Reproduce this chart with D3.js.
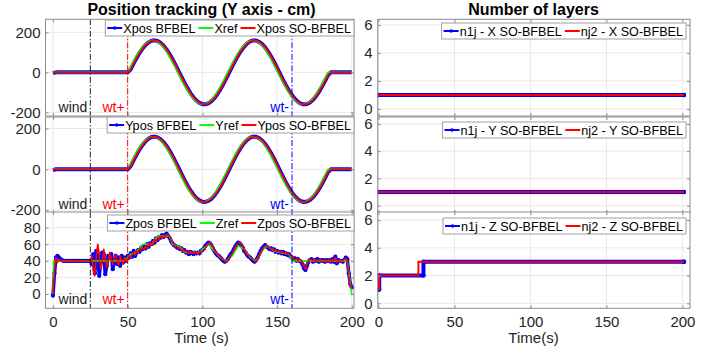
<!DOCTYPE html>
<html>
<head>
<meta charset="utf-8">
<script src="https://cdn.jsdelivr.net/npm/d3@7"></script>
<style>
  body { margin: 0; background: #fff; }
  text { font-family: "Liberation Sans", Arial, Helvetica, sans-serif; }
</style>
</head>
<body>
<svg id="chart" width="713" height="357"></svg>
<script>
// ---- data ----
const tSine = d3.range(0, 201, 2);          // sample times (s) of X / Y tracks
const xRef = [
  0,0,0,0,0,0,0,0,0,0, 0,0,0,0,0,0,0,0,0,0, 0,0,0,0,0,
  0,29.8,58.6,85.3,109.1,129.0,144.4,154.7,159.6,158.9,152.6,141.0,124.4,103.5,78.9,51.6,22.4,
  -7.5,-37.2,-65.5,-91.6,-114.5,-133.3,-147.5,-156.4,-160.0,-157.9,-150.2,-137.3,-119.5,-97.6,-72.3,-44.4,-15.0,
  15.0,44.4,72.3,97.6,119.5,137.3,150.2,157.9,160.0,156.4,147.5,133.3,114.5,91.6,65.5,37.2,7.5,
  -22.4,-51.6,-78.9,-103.5,-124.4,-141.0,-152.6,-158.9,-159.6,-154.7,-144.4,-129.0,-109.1,-85.3,-58.6,-29.8,0,
  0,0,0,0,0,0,0,0
];
const xPosBfbel = [
  -4,0,0,0,0,0,0,0,0,0, 0,0,0,0,0,0,0,0,0,0, 0,0,0,0,0,0,
  15.0,44.4,72.3,97.6,119.5,137.3,150.2,157.9,160.0,156.4,147.5,133.3,114.5,91.6,65.5,37.2,7.5,
  -22.4,-51.6,-78.9,-103.5,-124.4,-141.0,-152.6,-158.9,-159.6,-154.7,-144.4,-129.0,-109.1,-85.3,-58.6,-29.8,
  0,29.8,58.6,85.3,109.1,129.0,144.4,154.7,159.6,158.9,152.6,141.0,124.4,103.5,78.9,51.6,22.4,
  -7.5,-37.2,-65.5,-91.6,-114.5,-133.3,-147.5,-156.4,-160.0,-157.9,-150.2,-137.3,-119.5,-97.6,-72.3,-44.4,-15.0,
  0,0,0,0,0,0,0,0
];
const xPosSo = [
  0,0,0,0,0,0,0,0,0,0, 0,0,0,0,0,0,0,0,0,0, 0,0,0,0,0,0,
  15.0,44.4,72.3,97.6,119.5,137.3,150.2,157.9,160.0,156.4,147.5,133.3,114.5,91.6,65.5,37.2,7.5,
  -22.4,-51.6,-78.9,-103.5,-124.4,-141.0,-152.6,-158.9,-159.6,-154.7,-144.4,-129.0,-109.1,-85.3,-58.6,-29.8,
  0,29.8,58.6,85.3,109.1,129.0,144.4,154.7,159.6,158.9,152.6,141.0,124.4,103.5,78.9,51.6,22.4,
  -7.5,-37.2,-65.5,-91.6,-114.5,-133.3,-147.5,-156.4,-160.0,-157.9,-150.2,-137.3,-119.5,-97.6,-72.3,-44.4,-15.0,
  0,0,0,0,0,0,0,0
];
// the Y tracks look identical to the X tracks in the figure
const yRef = xRef.slice();
const yPosBfbel = xPosBfbel.slice();
const yPosSo = xPosSo.slice();

const tZ = d3.range(0, 201, 1);            // sample times (s) of Z track
const zPosBfbel = [
  -2,25,44,46,44,42,41,40,40,40,  40,40,40,40,40,40,40,40,40,40,
  40,40,40,40,40,40,36,48,25,52,  44,22,42,50,48,24,34,46,44,48,
  30,40,46,36,44,34,46,38,44,40,  46,44,49,45,52,46,50,53,51,56,
  54,57,55,60,57,61,60,64,62,67,  65,69,68,71,69,71,73,70,68,64,
  61,59,58,56,57,54,55,52,53,50,  51,48,51,50,48,50,49,50,49,52,
  53,55,58,60,62,61,59,55,52,49,  47,46,44,42,40,39,40,42,45,48,
  50,54,57,60,62,61,59,56,52,50,  47,45,44,42,40,39,41,44,48,52,
  55,57,59,57,56,54,55,53,54,51,  52,50,51,49,51,48,49,47,48,45,
  44,41,43,40,42,40,39,36,31,29,  34,39,41,42,39,41,40,42,39,41,
  40,41,39,41,40,41,39,42,39,45,  37,41,40,40,39,41,44,42,25,12,
  8
];
const zPosSo = [
  0,30,44,38,42,40,40,40,40,40,   40,40,40,40,40,40,40,40,40,40,
  40,40,40,40,40,40,46,28,22,45,  60,48,30,38,54,42,32,40,50,42,
  36,44,48,38,35,46,40,36,44,40,  42,46,44,48,50,47,52,50,55,53,
  56,54,58,55,60,58,62,59,66,63,  68,66,70,67,70,68,72,71,70,66,
  62,60,57,58,55,56,52,54,51,52,  50,49,52,49,50,49,51,48,50,51,
  52,53,56,59,61,62,60,57,53,50,  48,47,45,43,41,40,39,41,43,46,
  49,52,56,59,61,62,60,57,54,51,  48,46,45,43,41,40,39,42,46,50,
  53,56,58,58,57,55,54,55,52,53,  51,52,50,51,50,49,50,48,47,46,
  45,42,41,43,40,42,41,38,33,30,  36,40,42,41,40,42,39,41,40,42,
  39,40,41,39,40,42,38,41,40,44,  38,40,41,39,40,42,43,40,22,10,
  7
];
const zRefT = [0, 0.5, 48, 50, 52, 55, 58, 60, 66, 68, 70, 78, 80, 84, 86, 88, 98, 100, 104, 108, 112, 116, 120, 124, 128, 132, 136, 140, 143, 148, 152, 158, 160, 197, 200];
const zRef  = [0, 40, 40, 44, 48, 50, 55, 60, 60, 65, 70, 70, 60, 58, 55, 50, 50, 54, 60, 52, 44, 40, 46, 58, 54, 44, 40, 52, 58, 52, 50, 48, 40, 40, 0];

// number of layers (step series)
const layT = [0, 201];
const n1jX = [1, 1], nj2X = [1, 1];
const n1jY = [1, 1], nj2Y = [1, 1];
const n1jZT = [0, 0.5, 29.6, 201], n1jZ = [1, 2, 3, 3];
const nj2ZT = [0, 0.5, 26.3, 201], nj2Z = [1, 2, 3, 3];

const timeTicks = [0, 50, 100, 150, 200];
const posTicks = [-200, 0, 200];
const zTicks = [0, 20, 40, 60, 80];
const layerTicks = [0, 2, 4, 6];
const events = [
  { t: 25, label: "wind", color: "#222222" },
  { t: 50, label: "wt+", color: "#ff0000" },
  { t: 160, label: "wt-", color: "#0000ff" }
];

// ---- drawing ----
const BLUE = "#0000ff", GREEN = "#00ff00", RED = "#ff0000";
const svg = d3.select("#chart");
const xL = d3.scaleLinear().domain([-5, 201.5]).range([45.5, 354]);
const xR = d3.scaleLinear().domain([-0.5, 205]).range([377.7, 690]);

function drawPanel(p, idx) {
  const x = p.x;
  const [x0, x1] = x.range();
  const y = d3.scaleLinear().domain(p.yDomain).range([p.bottom, p.top]);
  const g = svg.append("g");

  g.append("rect").attr("x", x0).attr("y", p.top)
    .attr("width", x1 - x0).attr("height", p.bottom - p.top).attr("fill", "#fff");

  const clipId = "clip" + idx;
  svg.append("clipPath").attr("id", clipId).append("rect")
    .attr("x", x0).attr("y", p.top).attr("width", x1 - x0).attr("height", p.bottom - p.top);

  // grid
  g.selectAll(".gx").data(timeTicks).join("line")
    .attr("x1", d => x(d)).attr("x2", d => x(d)).attr("y1", p.top).attr("y2", p.bottom)
    .attr("stroke", "#e8e8e8").attr("stroke-width", 1);
  g.selectAll(".gy").data(p.yTicks).join("line")
    .attr("x1", x0).attr("x2", x1).attr("y1", d => y(d)).attr("y2", d => y(d))
    .attr("stroke", "#e8e8e8").attr("stroke-width", 1);

  const plot = g.append("g").attr("clip-path", `url(#${clipId})`);
  p.series.forEach(s => {
    const line = d3.line().x((d, i) => x(s.t[i])).y(d => y(d))
      .curve(s.step ? d3.curveStepAfter : d3.curveLinear);
    plot.append("path").datum(s.v).attr("d", line)
      .attr("fill", "none").attr("stroke", s.color).attr("stroke-width", s.w)
      .attr("stroke-linejoin", "round");
    if (s.dots) {
      plot.append("g").selectAll("circle").data(s.v).join("circle")
        .attr("cx", (d, i) => x(s.t[i])).attr("cy", d => y(d)).attr("r", s.dots).attr("fill", s.color);
    }
    if (s.corners) {
      const pts = [];
      s.v.forEach((d, i) => {
        pts.push([s.t[i], d]);
        if (i < s.v.length - 1) pts.push([s.t[i + 1], d]);
      });
      plot.append("g").selectAll("circle").data(pts).join("circle")
        .attr("cx", d => x(d[0])).attr("cy", d => y(d[1])).attr("r", s.corners).attr("fill", s.color);
    }
  });

  // event markers
  if (p.events) {
    p.events.forEach(e => {
      plot.append("line").attr("x1", x(e.t)).attr("x2", x(e.t)).attr("y1", p.top).attr("y2", p.bottom)
        .attr("stroke", e.color).attr("stroke-width", 1).attr("stroke-dasharray", "6,2,1.5,2");
      plot.append("text").attr("x", x(e.t) - 3).attr("y", p.bottom - 4)
        .attr("text-anchor", "end").attr("font-size", 14).attr("fill", e.color).text(e.label);
    });
  }

  // box + inward ticks on all sides
  const tick = (axis, tx, ty, labels, pad) => {
    const a = g.append("g").attr("transform", `translate(${tx},${ty})`)
      .call(axis.tickSize(-3).tickPadding(pad).tickFormat(labels ? (d => String(d)) : ""));
    a.select(".domain").remove();
    a.selectAll("line").attr("stroke", "#8c8c8c");
    a.selectAll("text").attr("font-size", 15).attr("fill", "#262626")
      .attr("font-family", "'Liberation Sans', Arial, sans-serif");
    return a;
  };
  tick(d3.axisLeft(y).tickValues(p.yTicks), x0, 0, true, 5);
  tick(d3.axisRight(y).tickValues(p.yTicks), x1, 0, false, 0);
  tick(d3.axisTop(x).tickValues(timeTicks), 0, p.top, false, 0);
  tick(d3.axisBottom(x).tickValues(timeTicks), 0, p.bottom, p.xLabels, 8);

  g.append("rect").attr("x", x0).attr("y", p.top)
    .attr("width", x1 - x0).attr("height", p.bottom - p.top)
    .attr("fill", "none").attr("stroke", "#8c8c8c").attr("stroke-width", 1);
}

function drawLegend(entries, right, top) {
  const g = svg.append("g");
  const box = g.append("rect");
  const mid = top + 8;
  let cx = 2;
  entries.forEach(e => {
    g.append("line").attr("x1", cx).attr("x2", cx + 15).attr("y1", mid).attr("y2", mid)
      .attr("stroke", e.color).attr("stroke-width", 2);
    if (e.dot) g.append("circle").attr("cx", cx + 7.5).attr("cy", mid).attr("r", 1.8).attr("fill", e.color);
    const t = g.append("text").attr("x", cx + 16).attr("y", mid + 4.5)
      .attr("font-size", 12.6).attr("fill", "#000").text(e.label);
    cx += 16 + t.node().getComputedTextLength() + 3;
  });
  box.attr("x", 0).attr("y", top).attr("width", cx).attr("height", 16)
    .attr("fill", "#fff").attr("stroke", "#a0a0a0").attr("stroke-width", 1);
  g.attr("transform", `translate(${right - cx},0)`);
}

const trackSeries = (ref, bf, so, t) => [
  { t: t, v: bf, color: BLUE, w: 4 },
  { t: t, v: ref, color: GREEN, w: 1.6 },
  { t: t, v: so, color: RED, w: 1.8 }
];

const leftPanels = [
  { x: xL, top: 19.3, bottom: 116, yDomain: [-218, 265], yTicks: posTicks, events: events,
    series: trackSeries(xRef, xPosBfbel, xPosSo, tSine),
    legend: ["Xpos BFBEL", "Xref", "Xpos SO-BFBEL"], legendTop: 20 },
  { x: xL, top: 117, bottom: 213, yDomain: [-214, 256], yTicks: posTicks, events: events,
    series: trackSeries(yRef, yPosBfbel, yPosSo, tSine),
    legend: ["Ypos BFBEL", "Yref", "Ypos SO-BFBEL"], legendTop: 117 },
  { x: xL, top: 212, bottom: 308.3, yDomain: [-17.2, 98.9], yTicks: zTicks, events: events, xLabels: true,
    series: [
      { t: tZ, v: zPosBfbel, color: BLUE, w: 3.5, dots: 2.1 },
      { t: zRefT, v: zRef, color: GREEN, w: 1.6 },
      { t: tZ, v: zPosSo, color: RED, w: 1.6 }
    ],
    legend: ["Zpos BFBEL", "Zref", "Zpos SO-BFBEL"], legendTop: 215 }
];

const layerSeries = (t1, v1, t2, v2) => [
  { t: t1, v: v1, color: BLUE, w: 4, step: true, corners: 2.2 },
  { t: t2, v: v2, color: RED, w: 2, step: true }
];

const rightPanels = [
  { x: xR, top: 19.3, bottom: 116, yDomain: [-0.5, 6.4], yTicks: layerTicks,
    series: layerSeries(layT, n1jX, layT, nj2X),
    legend: ["n1j - X SO-BFBEL", "nj2 - X SO-BFBEL"], legendTop: 23 },
  { x: xR, top: 117, bottom: 213, yDomain: [-0.54, 6.51], yTicks: layerTicks,
    series: layerSeries(layT, n1jY, layT, nj2Y),
    legend: ["n1j - Y SO-BFBEL", "nj2 - Y SO-BFBEL"], legendTop: 122 },
  { x: xR, top: 212, bottom: 308.3, yDomain: [-0.36, 6.58], yTicks: layerTicks, xLabels: true,
    series: layerSeries(n1jZT, n1jZ, nj2ZT, nj2Z),
    legend: ["n1j - Z SO-BFBEL", "nj2 - Z SO-BFBEL"], legendTop: 218 }
];

const legendColors3 = [BLUE, GREEN, RED];
const legendColors2 = [BLUE, RED];

leftPanels.forEach((p, i) => {
  drawPanel(p, "L" + i);
  drawLegend(p.legend.map((l, k) => ({ label: l, color: legendColors3[k], dot: k === 0 })), 354, p.legendTop);
});
rightPanels.forEach((p, i) => {
  drawPanel(p, "R" + i);
  drawLegend(p.legend.map((l, k) => ({ label: l, color: legendColors2[k], dot: k === 0 })), 686, p.legendTop);
});

// titles and axis labels
svg.append("text").attr("x", 201.5).attr("y", 15).attr("text-anchor", "middle")
  .attr("font-size", 16).attr("font-weight", "bold").attr("fill", "#000").text("Position tracking (Y axis - cm)");
svg.append("text").attr("x", 533.5).attr("y", 15).attr("text-anchor", "middle")
  .attr("font-size", 16).attr("font-weight", "bold").attr("fill", "#000").text("Number of layers");
svg.append("text").attr("x", 201.5).attr("y", 343).attr("text-anchor", "middle")
  .attr("font-size", 15).attr("fill", "#262626").text("Time (s)");
svg.append("text").attr("x", 533.5).attr("y", 343).attr("text-anchor", "middle")
  .attr("font-size", 15).attr("fill", "#262626").text("Time(s)");
</script>
</body>
</html>
